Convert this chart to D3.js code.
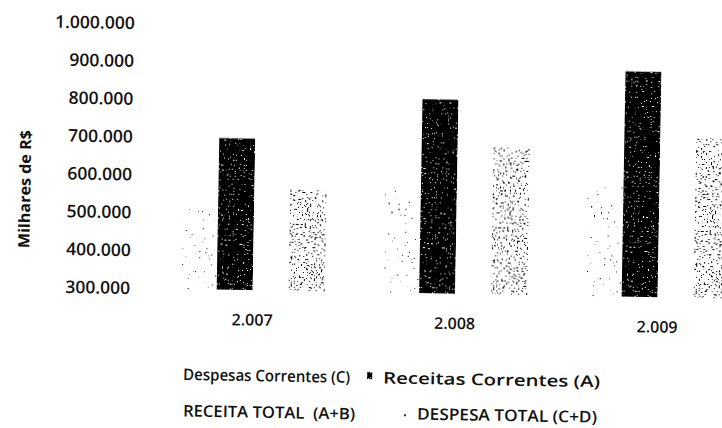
<!DOCTYPE html>
<html>
<head>
<meta charset="utf-8">
<script src="https://cdn.jsdelivr.net/npm/d3@7"></script>
<style>
  html, body { margin: 0; padding: 0; background: #fff; }
  svg { display: block; }
  text { font-family: "Open Sans", "DejaVu Sans", sans-serif; fill: #111; }
</style>
</head>
<body>
<svg id="chart" width="722" height="428"></svg>
<script>
// Categories and series (milhares de R$)
const years = ["2.007", "2.008", "2.009"];
const seriesNames = ["Despesas Correntes (C)", "Receitas Correntes (A)", "RECEITA TOTAL  (A+B)", "DESPESA TOTAL (C+D)"];
const despesasCorrentes = [510000, 585000, 600000];
const receitasCorrentes = [700000, 812000, 895000];
const receitaTotal = [725000, 840000, 920000];
const despesaTotal = [567000, 687000, 722000];
const yTicks = [300000, 400000, 500000, 600000, 700000, 800000, 900000, 1000000];

const seriesValues = [despesasCorrentes, receitasCorrentes, receitaTotal, despesaTotal];
const rows = years.map((yr, i) => ({
  year: yr,
  values: seriesNames.map((name, s) => ({ name, s, value: seriesValues[s][i] }))
}));

const ptBR = d3.formatLocale({ decimal: ",", thousands: ".", grouping: [3], currency: ["R$", ""] });
const fmt = ptBR.format(",d");

const svg = d3.select("#chart");
const defs = svg.append("defs");

// Grain filters: thresholded noise gives the stippled print texture of each series
function grain(id, seed, freq, threshold, mode) {
  const f = defs.append("filter").attr("id", id)
    .attr("x", "0").attr("y", "0").attr("width", "1").attr("height", "1")
    .attr("color-interpolation-filters", "sRGB");
  f.append("feTurbulence").attr("type", "fractalNoise").attr("baseFrequency", freq)
    .attr("numOctaves", 1).attr("seed", seed).attr("result", "noise");
  f.append("feColorMatrix").attr("in", "noise").attr("type", "matrix")
    .attr("values", "0 0 0 0 0  0 0 0 0 0  0 0 0 0 0  1 0 0 0 0").attr("result", "r");
  const ct = f.append("feComponentTransfer").attr("in", "r").attr("result", "dots");
  ct.append("feFuncA").attr("type", "linear").attr("slope", 40).attr("intercept", -40 * threshold);
  if (mode === "holes") {
    f.append("feComposite").attr("in", "SourceGraphic").attr("in2", "dots").attr("operator", "out");
  } else {
    f.append("feComposite").attr("in", "dots").attr("in2", "SourceGraphic").attr("operator", "in");
  }
}
grain("g-sparse", 3, 0.7, 0.72, "dots");
grain("g-dense", 7, 0.6, 0.62, "dots");
grain("g-dark", 11, 0.8, 0.68, "holes");

const seriesStyle = [
  { fill: "#000", filter: "url(#g-sparse)" },
  { fill: "#000", filter: "url(#g-dark)" },
  { fill: "#fff", filter: null },
  { fill: "#000", filter: "url(#g-dense)" }
];

// Whole figure is slightly tilted, as printed
const root = svg.append("g").attr("transform", "rotate(1,361,214)");

const x0 = d3.scaleBand().domain(years).range([152.75, 760.25])
  .paddingInner(0.289).paddingOuter(0.1445);
const x1 = d3.scaleBand().domain(seriesNames).range([0, x0.bandwidth()]);
const y = d3.scaleLinear().domain([300000, 1000000]).range([292, 27]);

// Bars
const groups = root.append("g").selectAll("g").data(rows).join("g")
  .attr("transform", d => `translate(${x0(d.year)},0)`);
groups.selectAll("rect").data(d => d.values).join("rect")
  .attr("x", d => x1(d.name))
  .attr("width", x1.bandwidth())
  .attr("y", d => y(d.value))
  .attr("height", d => y(300000) - y(d.value))
  .attr("fill", d => seriesStyle[d.s].fill)
  .attr("filter", d => seriesStyle[d.s].filter);

// Y axis (labels only)
const yAxis = root.append("g").attr("transform", "translate(131.5,0)")
  .call(d3.axisLeft(y).tickValues(yTicks).tickFormat(fmt).tickSize(0).tickPadding(0));
yAxis.select(".domain").remove();
yAxis.selectAll("text")
  .style("font-family", "'Open Sans', sans-serif")
  .attr("font-size", 17.5).attr("font-weight", 600).attr("fill", "#111");

// X axis (labels only)
const xAxis = root.append("g").attr("transform", "translate(0,316)")
  .call(d3.axisBottom(x0).tickSize(0).tickPadding(0));
xAxis.select(".domain").remove();
xAxis.selectAll("text")
  .style("font-family", "'Open Sans', sans-serif")
  .attr("font-size", 16).attr("font-weight", 600).attr("fill", "#111");

// Y axis title
root.append("text")
  .attr("transform", "translate(30,195) rotate(-90)")
  .attr("text-anchor", "middle")
  .attr("font-size", 15.5).attr("font-weight", 700)
  .attr("textLength", 118).attr("lengthAdjust", "spacingAndGlyphs")
  .text("Milhares de R$");

// Legend, two rows of two entries
const legendPos = [
  { x: 186, y: 383, len: 167 },
  { x: 386, y: 383, len: 217 },
  { x: 186.5, y: 419.5, len: 172 },
  { x: 420.5, y: 418.5, len: 180 }
];
const legend = root.append("g");
legend.selectAll("text").data(seriesNames).join("text")
  .attr("x", (d, i) => legendPos[i].x)
  .attr("y", (d, i) => legendPos[i].y)
  .attr("textLength", (d, i) => legendPos[i].len)
  .attr("lengthAdjust", "spacingAndGlyphs")
  .attr("font-size", 16).attr("font-weight", 600)
  .style("white-space", "pre")
  .text(d => d);
// small swatch remnants
legend.append("rect").attr("x", 370).attr("y", 372).attr("width", 5).attr("height", 7)
  .attr("fill", "#000").attr("filter", "url(#g-dark)");
legend.append("rect").attr("x", 407.5).attr("y", 413.5).attr("width", 2).attr("height", 2).attr("fill", "#333");
</script>
</body>
</html>
